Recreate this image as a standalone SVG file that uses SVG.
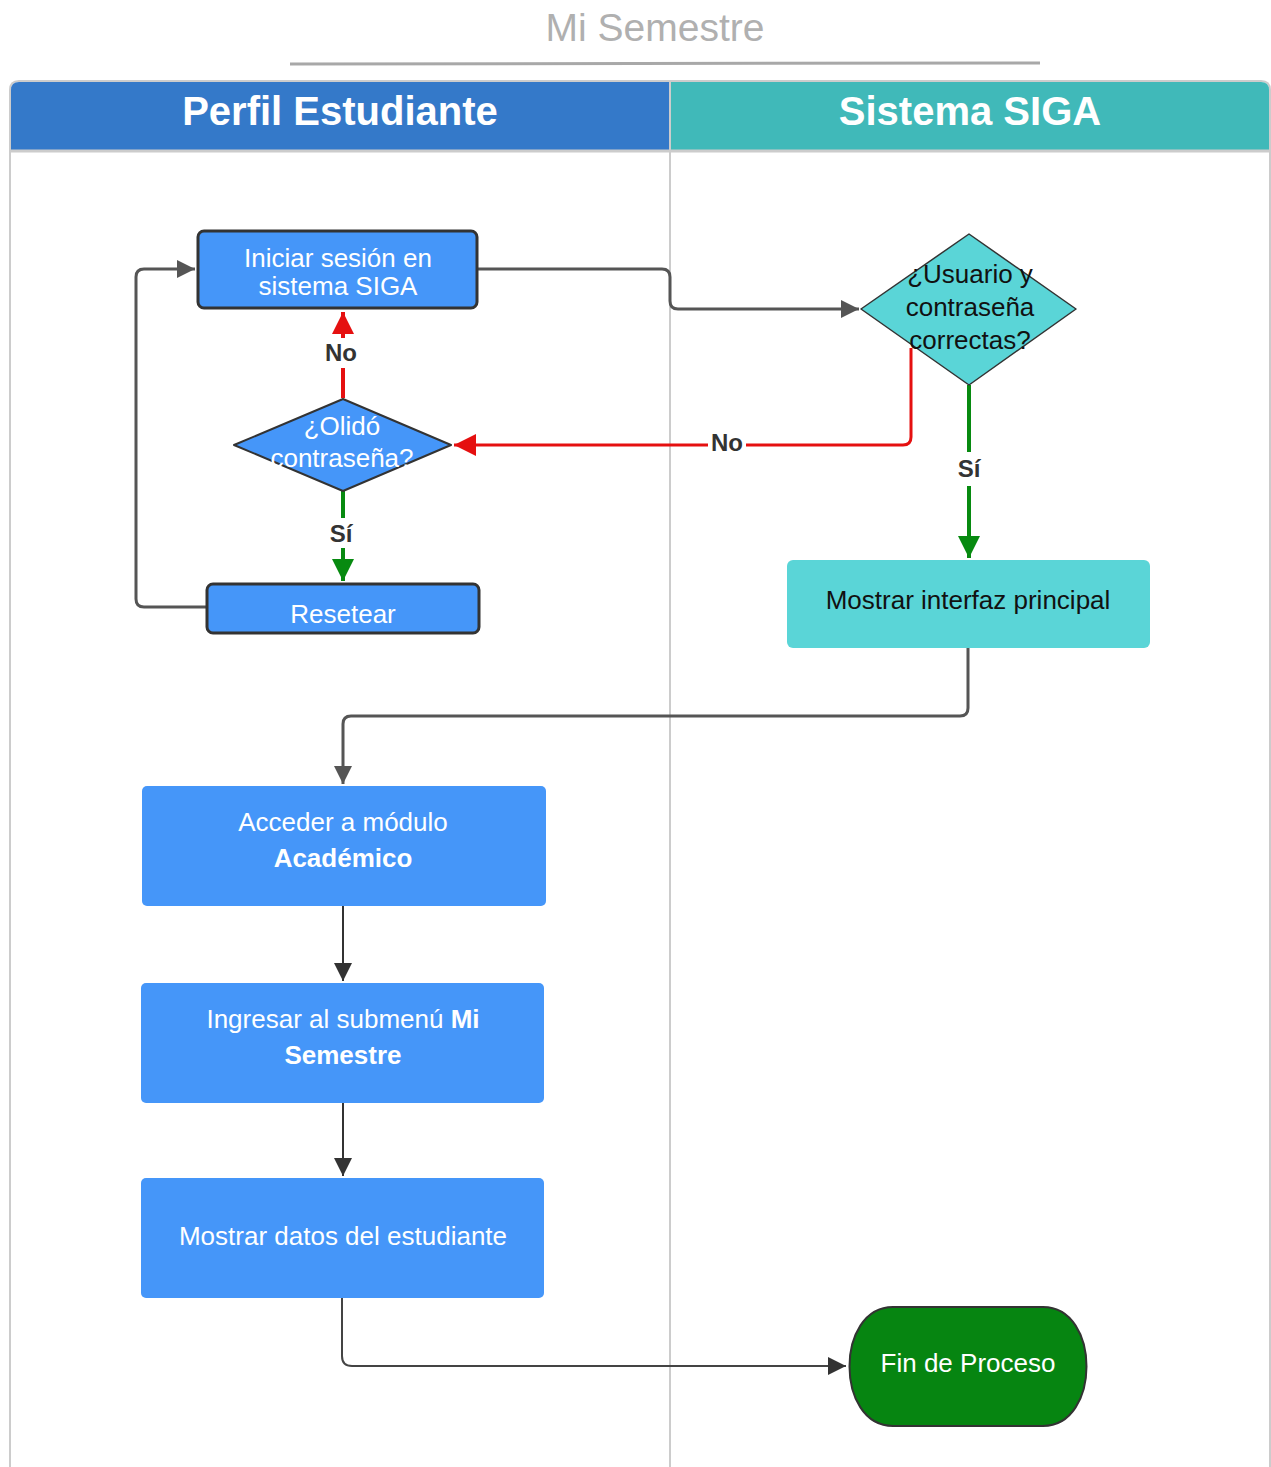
<svg xmlns="http://www.w3.org/2000/svg" width="1271" height="1467" viewBox="0 0 1271 1467">
<style>
text{font-family:"Liberation Sans",Arial,sans-serif;text-anchor:middle;dominant-baseline:central}
.hdr{font-size:40px;font-weight:bold;fill:#fff}
.wt{font-size:26px;fill:#fff}
.bk{font-size:26px;fill:#111}
.lbl{font-size:24px;font-weight:bold;fill:#333}
.blue{fill:#4596f9}
.teal{fill:#5ad5d7}
.c{fill:none;stroke-linejoin:round}
</style>
<defs>
<marker id="agS" viewBox="0 0 10 10" refX="10" refY="5" markerWidth="20" markerHeight="18" markerUnits="userSpaceOnUse" orient="auto"><path d="M0,0 L10,5 L0,10 z" fill="#555"/></marker>
<marker id="adS" viewBox="0 0 10 10" refX="10" refY="5" markerWidth="20" markerHeight="18" markerUnits="userSpaceOnUse" orient="auto"><path d="M0,0 L10,5 L0,10 z" fill="#333"/></marker>
<marker id="arS" viewBox="0 0 10 10" refX="10" refY="5" markerWidth="24" markerHeight="22" markerUnits="userSpaceOnUse" orient="auto"><path d="M0,0 L10,5 L0,10 z" fill="#e51010"/></marker>
<marker id="agrS" viewBox="0 0 10 10" refX="10" refY="5" markerWidth="24" markerHeight="22" markerUnits="userSpaceOnUse" orient="auto"><path d="M0,0 L10,5 L0,10 z" fill="#078a10"/></marker>
</defs>
<rect width="1271" height="1467" fill="#fff"/>
<g id="title">
<text x="655" y="27" style="font-size:39px;fill:#b0b0b0">Mi Semestre</text>
<line x1="290" y1="64" x2="1040" y2="63" stroke="#a8a8a8" stroke-width="3"/>
</g>
<g id="pool">
<path d="M10,1467 V90 Q10,81 19,81 H1261 Q1270,81 1270,90 V1467" fill="none" stroke="#ccc" stroke-width="2"/>
<path d="M11,151 V90 Q11,82 19,82 H670 V151 z" fill="#3479c9"/>
<path d="M670,82 H1261 Q1269,82 1269,90 V151 H670 z" fill="#40b9b9"/>
<line x1="11" y1="151" x2="1269" y2="151" stroke="#ccc" stroke-width="3"/>
<line x1="670" y1="82" x2="670" y2="1467" stroke="#ccc" stroke-width="2"/>
<text class="hdr" x="340" y="111">Perfil Estudiante</text>
<text class="hdr" x="970" y="111">Sistema SIGA</text>
</g>
<g id="connectors">
<path class="c" d="M477,269 H662 Q670,269 670,277 V301 Q670,309 678,309 H859" stroke="#555" stroke-width="3" marker-end="url(#agS)"/>
<path class="c" d="M206,607 H144 Q136,607 136,599 V277 Q136,269 144,269 H195" stroke="#555" stroke-width="3" marker-end="url(#agS)"/>
<path class="c" d="M911,348 V437 Q911,445 903,445 H454" stroke="#e51010" stroke-width="3" marker-end="url(#arS)"/>
<path class="c" d="M343,398 V312" stroke="#e51010" stroke-width="4" marker-end="url(#arS)"/>
<path class="c" d="M343,491 V581" stroke="#078a10" stroke-width="4" marker-end="url(#agrS)"/>
<path class="c" d="M969,385 V558" stroke="#078a10" stroke-width="4" marker-end="url(#agrS)"/>
<path class="c" d="M968,648 V708 Q968,716 960,716 H351 Q343,716 343,724 V784" stroke="#555" stroke-width="3" marker-end="url(#agS)"/>
<path class="c" d="M343,906 V981" stroke="#333" stroke-width="2" marker-end="url(#adS)"/>
<path class="c" d="M343,1103 V1176" stroke="#333" stroke-width="2" marker-end="url(#adS)"/>
<path class="c" d="M342,1298 V1356 Q342,1366 352,1366 H846" stroke="#444" stroke-width="2" marker-end="url(#adS)"/>
<rect x="322" y="338" width="40" height="30" fill="#fff"/>
<text class="lbl" x="341" y="352">No</text>
<rect x="708" y="430" width="38" height="24" fill="#fff"/>
<text class="lbl" x="727" y="442">No</text>
<rect x="326" y="518" width="32" height="30" fill="#fff"/>
<text class="lbl" x="341" y="533">Sí</text>
<rect x="953" y="452" width="32" height="34" fill="#fff"/>
<text class="lbl" x="969" y="468">Sí</text>
</g>
<g id="n-iniciar">
<rect class="blue" x="198" y="231" width="279" height="77" rx="6" stroke="#333" stroke-width="3"/>
<text class="wt" x="338" y="258">Iniciar sesión en</text>
<text class="wt" x="338" y="286">sistema SIGA</text>
</g>
<g id="n-olido">
<path class="blue" d="M343,399 L451,445 L343,491 L234,445 z" stroke="#333" stroke-width="2" stroke-linejoin="round"/>
<text class="wt" x="342" y="426">¿Olidó</text>
<text class="wt" x="342" y="458">contraseña?</text>
</g>
<g id="n-resetear">
<rect class="blue" x="207" y="584" width="272" height="49" rx="6" stroke="#333" stroke-width="3"/>
<text class="wt" x="343" y="614">Resetear</text>
</g>
<g id="n-usuario">
<path class="teal" d="M969,234 L1076,309 L969,385 L861,309 z" stroke="#333" stroke-width="1.5" stroke-linejoin="round"/>
<text class="bk" x="970" y="274">¿Usuario y</text>
<text class="bk" x="970" y="307">contraseña</text>
<text class="bk" x="970" y="340">correctas?</text>
</g>
<g id="n-interfaz">
<rect class="teal" x="787" y="560" width="363" height="88" rx="6"/>
<text class="bk" x="968" y="600">Mostrar interfaz principal</text>
</g>
<g id="n-acceder">
<rect class="blue" x="142" y="786" width="404" height="120" rx="5"/>
<text class="wt" x="343" y="822">Acceder a módulo</text>
<text class="wt" x="343" y="858" font-weight="bold">Académico</text>
</g>
<g id="n-ingresar">
<rect class="blue" x="141" y="983" width="403" height="120" rx="5"/>
<text class="wt" x="343" y="1019">Ingresar al submenú <tspan font-weight="bold">Mi</tspan></text>
<text class="wt" x="343" y="1055" font-weight="bold">Semestre</text>
</g>
<g id="n-datos">
<rect class="blue" x="141" y="1178" width="403" height="120" rx="5"/>
<text class="wt" x="343" y="1236">Mostrar datos del estudiante</text>
</g>
<g id="n-fin">
<path d="M893,1307 H1043 C1101,1307 1101,1426 1043,1426 H893 C835,1426 835,1307 893,1307 z" fill="#068511" stroke="#333" stroke-width="2"/>
<text class="wt" x="968" y="1363">Fin de Proceso</text>
</g>
</svg>
